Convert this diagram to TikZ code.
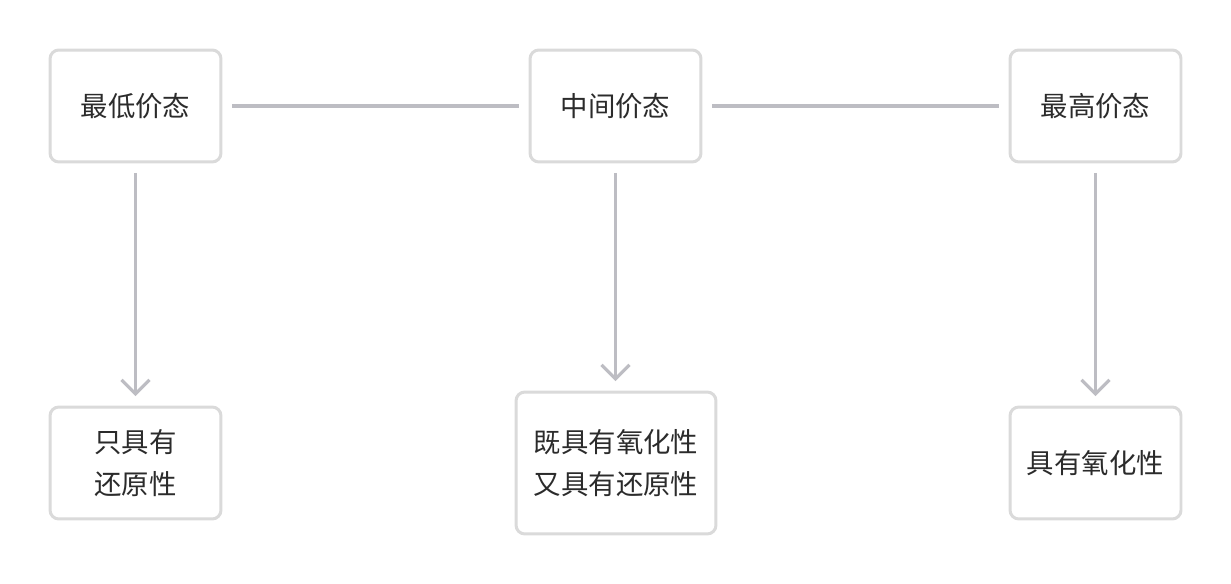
\documentclass[tikz,border=0pt]{standalone}
\usepackage{fontspec}
\newfontfamily\cjk{Noto Sans CJK SC}
\usetikzlibrary{arrows.meta}
\definecolor{boxline}{HTML}{DADADA}
\definecolor{linkline}{HTML}{BDBDC3}
\definecolor{txt}{HTML}{2B2B2B}
\tikzset{
  state/.style={draw=boxline,line width=1.7pt,rounded corners=5pt,fill=white,
    minimum width=3.42cm,minimum height=2.24cm,align=center,
    font=\cjk\fontsize{15.6}{24}\selectfont,text=txt},
  link/.style={draw=linkline,line width=1.8pt,shorten <=0.19cm,shorten >=0.19cm},
  down/.style={link,-{Straight Barb[length=0.28cm,width=0.56cm,line width=1.8pt]}}
}
\begin{document}
\begin{tikzpicture}[x=0.02cm,y=-0.02cm]
\useasboundingbox (0,0) rectangle (1231,584);

\node[state] (low) at (135.5,106) {最低价态};
\node[state] (mid) at (615.5,106) {中间价态};
\node[state] (high) at (1095.5,106) {最高价态};

\node[state] (red) at (135.5,463) {只具有\\还原性};
\node[state,minimum width=4cm,minimum height=2.84cm] (both) at (616,463) {既具有氧化性\\又具有还原性};
\node[state] (ox) at (1095.5,463) {具有氧化性};

\draw[link] (low) -- (mid);
\draw[link] (mid) -- (high);

\draw[down] (low) -- (red);
\draw[down] (mid.south) -- (mid.south |- both.north);
\draw[down] (high) -- (ox);
\end{tikzpicture}
\end{document}
